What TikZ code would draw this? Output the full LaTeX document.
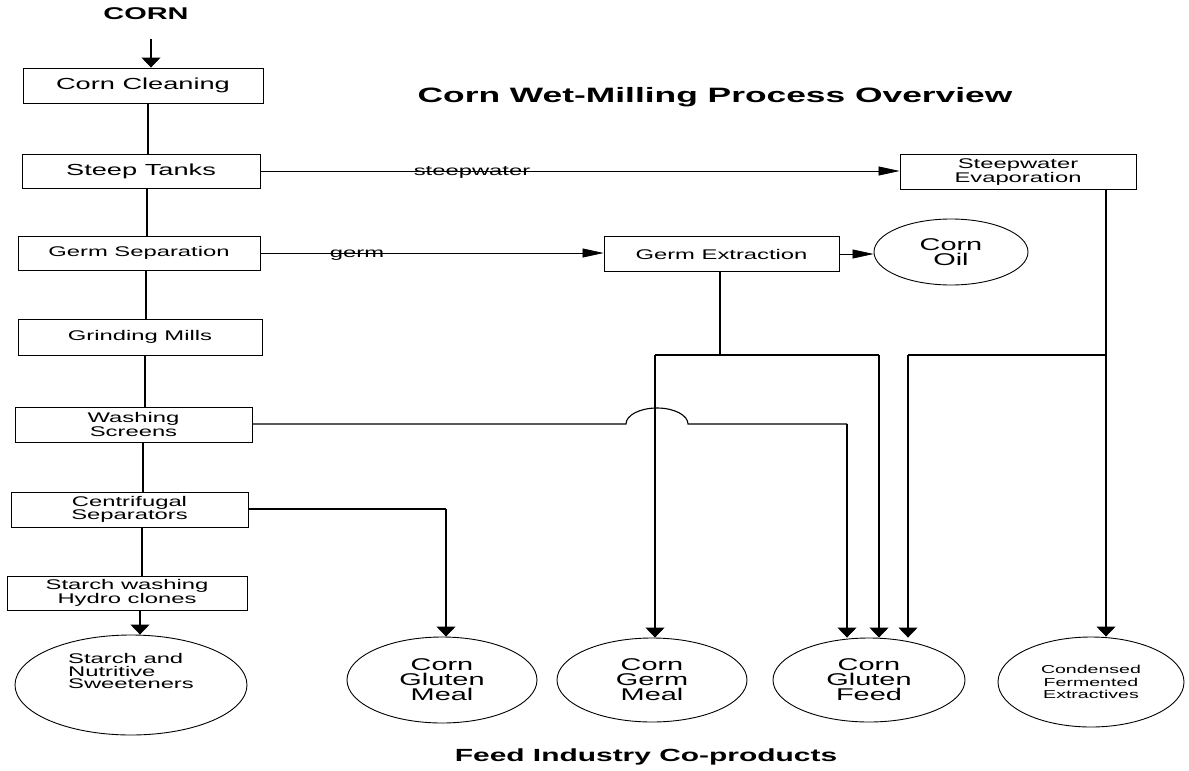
\documentclass[tikz,border=0pt]{standalone}
\usepackage{fontspec}
\setmainfont{Liberation Sans}[FakeStretch=1.7]
\usetikzlibrary{arrows.meta,shapes.geometric,calc}
\tikzset{
  procbox/.style={draw, line width=0.9pt, rectangle, inner sep=0pt, align=center},
  prodell/.style={draw, line width=0.9pt, ellipse, inner sep=0pt, align=center},
  flow/.style={line width=1.1pt},
  thinflow/.style={line width=0.7pt},
  varrow/.style={line width=1.1pt, -{Triangle[length=10pt,width=19pt]}},
  harrow/.style={line width=0.7pt, -{Triangle[length=21pt,width=9pt]}},
  boxfont/.style={font=\fontsize{14}{12.5}\selectfont},
  bigfont/.style={font=\fontsize{16}{14}\selectfont},
  ellfont/.style={font=\fontsize{17}{15}\selectfont},
  headfont/.style={font=\bfseries\fontsize{17}{18}\selectfont},
}
\begin{document}
\begin{tikzpicture}[x=1pt,y=-1pt]
\useasboundingbox (0,0) rectangle (1189,771);

% headings
\node[headfont] (corn) at (146,14) {CORN};
\node[font=\bfseries\fontsize{20.8}{22}\selectfont] (title) at (715,97) {Corn Wet-Milling Process Overview};
\node[font=\bfseries\fontsize{17.6}{20}\selectfont] (feed) at (646,757) {Feed Industry Co-products};

% process boxes
\node[procbox, bigfont, minimum width=240pt, minimum height=35pt] (cc) at (143,85.5) {Corn Cleaning};
\node[procbox, bigfont, minimum width=238pt, minimum height=34pt] (st) at (141,171) {Steep Tanks};
\node[procbox, boxfont, minimum width=242pt, minimum height=34pt] (gs) at (139,253) {Germ Separation};
\node[procbox, boxfont, minimum width=244pt, minimum height=36pt] (gm) at (140,337) {Grinding Mills};
\node[procbox, boxfont, minimum width=237pt, minimum height=35pt] (ws) at (133.5,424.5) {Washing\\Screens};
\node[procbox, boxfont, minimum width=237pt, minimum height=35pt] (cs) at (129.5,509.5) {Centrifugal\\Separators};
\node[procbox, boxfont, minimum width=240pt, minimum height=34pt] (sw) at (127,593) {Starch washing\\Hydro clones};

\node[procbox, boxfont, minimum width=236pt, minimum height=35pt] (se) at (1018,172) {Steepwater\\Evaporation};
\node[procbox, boxfont, minimum width=235pt, minimum height=35pt] (ge) at (721.5,254) {Germ Extraction};
\node[prodell, font=\fontsize{17}{15.5}\selectfont, minimum width=154pt, minimum height=66pt] (oil) at (951,252) {Corn\\Oil};

% products
\node[prodell, minimum width=232pt, minimum height=100pt] (starch) at (131,685) {};
\node[boxfont, align=left] (starchtxt) at (131,671) {Starch and\\Nutritive\\Sweeteners};
\node[prodell, ellfont, minimum width=190pt, minimum height=86pt] (glmeal) at (442,680) {Corn\\Gluten\\Meal};
\node[prodell, ellfont, minimum width=190pt, minimum height=84pt] (germmeal) at (652,680) {Corn\\Germ\\Meal};
\node[prodell, ellfont, minimum width=192pt, minimum height=84pt] (glfeed) at (869,680) {Corn\\Gluten\\Feed};
\node[prodell, font=\fontsize{11.5}{12.5}\selectfont, minimum width=186pt, minimum height=90pt] (cfe) at (1091,682) {Condensed\\Fermented\\Extractives};

% main trunk
\draw[varrow, shorten <=15pt] (corn.south -| 151,0) -- (cc.north -| 151,0);
\draw[flow] (cc.south -| 148,0) -- (st.north -| 148,0);
\draw[flow] (st.south -| 147,0) -- (gs.north -| 147,0);
\draw[flow] (gs.south -| 146,0) -- (gm.north -| 146,0);
\draw[flow] (gm.south -| 145,0) -- (ws.north -| 145,0);
\draw[flow] (ws.south -| 143,0) -- (cs.north -| 143,0);
\draw[flow] (cs.south -| 142,0) -- (sw.north -| 142,0);
\draw[varrow] (sw.south -| 140,0) -- (starch.north -| 140,0);

% side streams
\draw[harrow] (st.east) -- (st.east -| se.west);
\node[boxfont, anchor=base] (swlab) at (472,175) {steepwater};
\draw[harrow] (gs.east) -- (gs.east -| ge.west);
\node[boxfont, anchor=base] (germlab) at (357,257) {germ};
\draw[harrow] (ge.east) -- (ge.east -| oil.west);

% germ extraction branches
\coordinate (gj) at (720,355);
\coordinate (gjl) at (655,355);
\coordinate (gjr) at (879,355);
\draw[flow] (ge.south -| gj) -- (gj);
\draw[flow] (gjl) -- (gjr);
\draw[varrow] (gjl) -- (germmeal.north -| gjl);
\draw[varrow] (gjr) -- (glfeed.north -| gjr);

% steepwater evaporation branches
\coordinate (sj) at (1106,355);
\coordinate (sjl) at (908,355);
\draw[flow] (se.south -| sj) -- (sj);
\draw[flow] (sj) -- (sjl);
\draw[varrow] (sjl) -- (glfeed.north -| sjl);
\draw[varrow] (sj) -- (cfe.north -| sj);

% washing screens to gluten feed with hop
\coordinate (wsh) at (847,424);
\draw[flow] (ws.east |- wsh) -- (626,424) arc[start angle=180, end angle=0, x radius=31pt, y radius=16pt] -- (wsh);
\draw[varrow] (wsh) -- (glfeed.north -| wsh);

% centrifugal separators to gluten meal
\coordinate (csj) at (446,509);
\draw[flow] (cs.east |- csj) -- (csj);
\draw[varrow] (csj) -- (glmeal.north -| csj);
\end{tikzpicture}
\end{document}
